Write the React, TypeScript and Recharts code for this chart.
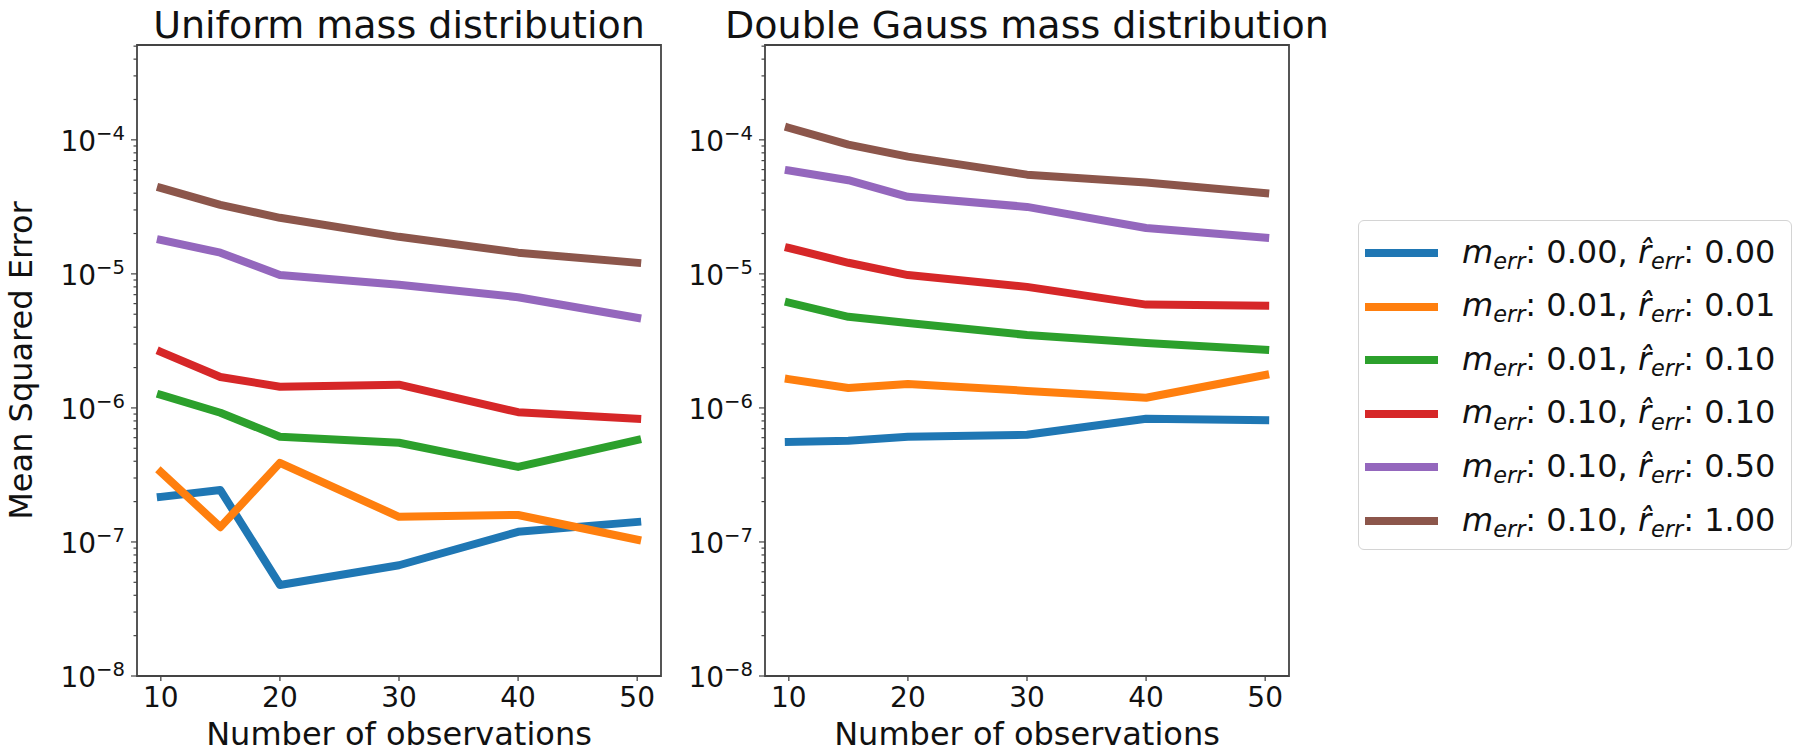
import React from 'react';
import { LineChart, Line, XAxis, YAxis, ReferenceArea, Legend } from 'recharts';

const FONT = '"DejaVu Sans", sans-serif';

// x values (number of observations)
const observations = [10, 15, 20, 30, 40, 50];
const xTicks = [10, 20, 30, 40, 50];

// y axis ticks (log scale)
const yMajorTicks = [1e-8, 1e-7, 1e-6, 1e-5, 1e-4];
const yMinorMultipliers = [2, 3, 4, 5, 6, 7, 8, 9];
const yDomain: [number, number] = [1e-8, 5.1e-4];
const xDomain: [number, number] = [8, 52];

// legend labels
const mErrLabels = ['0.00', '0.01', '0.01', '0.10', '0.10', '0.10'];
const rErrLabels = ['0.00', '0.01', '0.10', '0.10', '0.50', '1.00'];
const seriesColors = ['#1f77b4', '#ff7f0e', '#2ca02c', '#d62728', '#9467bd', '#8c564b'];

// Uniform mass distribution
const uniformS0 = [2.17e-7, 2.44e-7, 4.78e-8, 6.7e-8, 1.19e-7, 1.41e-7];
const uniformS1 = [3.33e-7, 1.29e-7, 3.89e-7, 1.54e-7, 1.59e-7, 1.04e-7];
const uniformS2 = [1.25e-6, 9.2e-7, 6.1e-7, 5.5e-7, 3.63e-7, 5.77e-7];
const uniformS3 = [2.62e-6, 1.7e-6, 1.44e-6, 1.49e-6, 9.3e-7, 8.3e-7];
const uniformS4 = [1.79e-5, 1.44e-5, 9.8e-6, 8.3e-6, 6.7e-6, 4.7e-6];
const uniformS5 = [4.38e-5, 3.27e-5, 2.62e-5, 1.89e-5, 1.44e-5, 1.21e-5];

// Double Gauss mass distribution
const gaussS0 = [5.57e-7, 5.7e-7, 6.1e-7, 6.3e-7, 8.3e-7, 8.1e-7];
const gaussS1 = [1.64e-6, 1.41e-6, 1.51e-6, 1.34e-6, 1.19e-6, 1.76e-6];
const gaussS2 = [6.1e-6, 4.78e-6, 4.3e-6, 3.5e-6, 3.05e-6, 2.71e-6];
const gaussS3 = [1.56e-5, 1.21e-5, 9.8e-6, 8.0e-6, 5.9e-6, 5.8e-6];
const gaussS4 = [5.9e-5, 5.0e-5, 3.76e-5, 3.16e-5, 2.2e-5, 1.86e-5];
const gaussS5 = [1.23e-4, 9.2e-5, 7.5e-5, 5.5e-5, 4.8e-5, 4.0e-5];

const uniformSeries = [uniformS0, uniformS1, uniformS2, uniformS3, uniformS4, uniformS5];
const gaussSeries = [gaussS0, gaussS1, gaussS2, gaussS3, gaussS4, gaussS5];

const yTicks: number[] = [];
yMajorTicks.forEach((m) => {
  yTicks.push(m);
  yMinorMultipliers.forEach((k) => {
    const v = m * k;
    if (v <= yDomain[1]) yTicks.push(v);
  });
});

function buildRows(series: number[][]) {
  return observations.map((n, i) => {
    const row: Record<string, number> = { n };
    series.forEach((s, j) => {
      row['s' + j] = s[i];
    });
    return row;
  });
}

const XTick = (props: any) => {
  const { x, y, payload } = props;
  return (
    <g>
      <line x1={x} x2={x} y1={y} y2={y + 5} stroke="#444" strokeWidth={1.3} />
      <text x={x} y={y + 31} textAnchor="middle" fontSize={28} fontFamily={FONT} fill="#111">
        {payload.value}
      </text>
    </g>
  );
};

const YTick = (props: any) => {
  const { x, y, payload } = props;
  const v = payload.value as number;
  const lg = Math.log10(v);
  const exp = Math.round(lg);
  const isMajor = Math.abs(lg - exp) < 1e-6;
  return (
    <g>
      <line x1={x} x2={x - (isMajor ? 6 : 3.5)} y1={y} y2={y} stroke="#444" strokeWidth={1.2} />
      {isMajor && (
        <text x={x - 12} y={y + 11} textAnchor="end" fontSize={28} fontFamily={FONT} fill="#111">
          10
          <tspan dy={-11} fontSize={19.6}>
            {'\u2212' + String(-exp)}
          </tspan>
        </text>
      )}
    </g>
  );
};

const YLabel = (props: any) => {
  const vb = props.viewBox || { x: 136, y: 45, width: 1, height: 631 };
  const cx = vb.x + vb.width - 105;
  const cy = vb.y + vb.height / 2;
  return (
    <text
      x={cx}
      y={cy}
      transform={`rotate(-90, ${cx}, ${cy})`}
      textAnchor="middle"
      fontSize={32}
      fontFamily={FONT}
      fill="#111"
    >
      Mean Squared Error
    </text>
  );
};

const LegendContent = (props: any) => {
  const payload = props.payload || [];
  return (
    <div
      style={{
        boxSizing: 'border-box',
        width: 434,
        height: 330,
        border: '1.5px solid #d4d4d4',
        borderRadius: 6,
        background: '#fff',
        position: 'relative',
        fontFamily: FONT,
        color: '#111',
      }}
    >
      {payload.map((entry: any) => {
        const idx = Number(String(entry.dataKey).slice(1));
        return (
          <div
            key={String(entry.dataKey)}
            style={{
              position: 'absolute',
              left: 6,
              top: 32 + idx * 53.6 - 20,
              height: 40,
              display: 'flex',
              alignItems: 'center',
              whiteSpace: 'nowrap',
            }}
          >
            <div style={{ width: 73, height: 8, background: entry.color }} />
            <span style={{ marginLeft: 24, fontSize: 32, lineHeight: '40px' }}>
              <span style={{ fontStyle: 'italic' }}>m</span>
              <span style={{ fontStyle: 'italic', fontSize: '0.7em', position: 'relative', top: '0.28em' }}>err</span>
              {': ' + mErrLabels[idx] + ', '}
              <span style={{ fontStyle: 'italic' }}>{'r\u0302'}</span>
              <span style={{ fontStyle: 'italic', fontSize: '0.7em', position: 'relative', top: '0.28em' }}>err</span>
              {': ' + rErrLabels[idx]}
            </span>
          </div>
        );
      })}
    </div>
  );
};

type PanelProps = {
  series: number[][];
  title: string;
  left: number;
  width: number;
  marginLeft: number;
  marginRight: number;
  showYLabel: boolean;
  showLegend: boolean;
};

function ErrorPanel({ series, title, left, width, marginLeft, marginRight, showYLabel, showLegend }: PanelProps) {
  const data = buildRows(series);
  return (
    <div style={{ position: 'absolute', left, top: 0 }}>
      <LineChart
        width={width}
        height={752}
        data={data}
        margin={{ top: 45, right: marginRight, bottom: 75, left: marginLeft - 1 }}
      >
        <XAxis
          dataKey="n"
          type="number"
          domain={xDomain}
          ticks={xTicks}
          interval={0}
          allowDataOverflow
          axisLine={false}
          tickLine={false}
          tickSize={0}
          tickMargin={0}
          height={1}
          tick={<XTick />}
          label={{
            value: 'Number of observations',
            position: 'bottom',
            offset: 45,
            fontSize: 32,
            fill: '#111',
            fontFamily: FONT,
          }}
        />
        <YAxis
          type="number"
          scale="log"
          domain={yDomain}
          allowDataOverflow
          ticks={yTicks}
          interval={0}
          width={1}
          axisLine={false}
          tickLine={false}
          tickSize={0}
          tickMargin={0}
          tick={<YTick />}
          label={showYLabel ? <YLabel /> : undefined}
        />
        {series.map((_, j) => (
          <Line
            key={j}
            type="linear"
            dataKey={'s' + j}
            name={mErrLabels[j] + ' ' + rErrLabels[j]}
            stroke={seriesColors[j]}
            strokeWidth={8}
            strokeLinecap="square"
            strokeLinejoin="round"
            dot={false}
            activeDot={false}
            isAnimationActive={false}
          />
        ))}
        <ReferenceArea
          x1={xDomain[0]}
          x2={xDomain[1]}
          y1={yDomain[0]}
          y2={yDomain[1]}
          fill="none"
          fillOpacity={0}
          stroke="#444"
          strokeWidth={1.8}
          ifOverflow="visible"
          label={{ value: title, position: 'top', offset: 7, fontSize: 38, fill: '#111', fontFamily: FONT }}
        />
        {showLegend && (
          <Legend
            layout="vertical"
            align="center"
            verticalAlign="middle"
            content={<LegendContent />}
            wrapperStyle={{ position: 'absolute', left: 708, top: 220, width: 434, height: 330 }}
          />
        )}
      </LineChart>
    </div>
  );
}

export default function App() {
  return (
    <div
      style={{
        position: 'absolute',
        left: 0,
        top: 0,
        width: 1794,
        height: 752,
        background: '#fff',
        fontFamily: FONT,
      }}
    >
      <ErrorPanel
        series={uniformSeries}
        title="Uniform mass distribution"
        left={0}
        width={700}
        marginLeft={137}
        marginRight={39}
        showYLabel={true}
        showLegend={false}
      />
      <ErrorPanel
        series={gaussSeries}
        title="Double Gauss mass distribution"
        left={650}
        width={1144}
        marginLeft={115}
        marginRight={505}
        showYLabel={false}
        showLegend={true}
      />
    </div>
  );
}
